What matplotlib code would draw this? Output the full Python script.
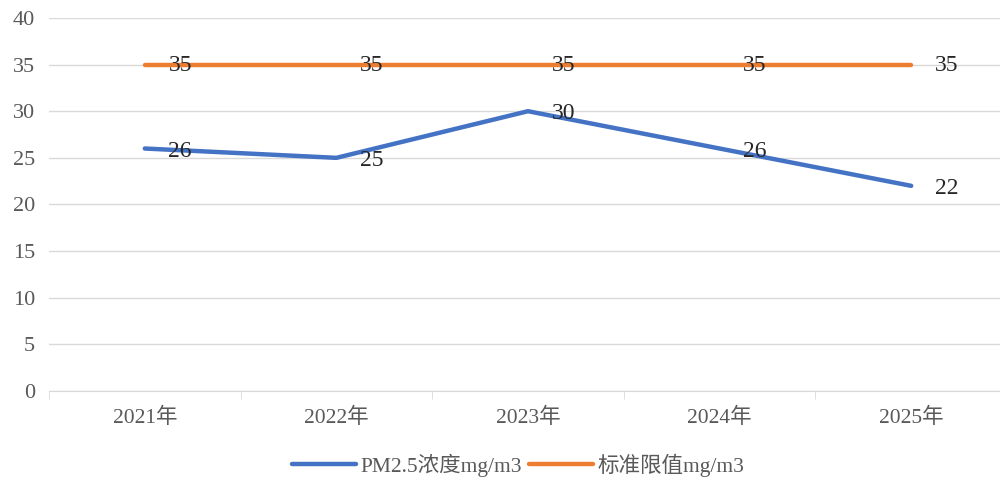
import matplotlib
matplotlib.use('Agg')
import matplotlib.pyplot as plt
import numpy as np

plt.rcParams['font.family'] = ['Liberation Serif', 'Noto Sans CJK SC']

years = ['2021年', '2022年', '2023年', '2024年', '2025年']
pm25 = [26, 25, 30, 26, 22]
limit = [35, 35, 35, 35, 35]
names = ['PM2.5浓度mg/m3', '标准限值mg/m3']

fig = plt.figure(figsize=(10, 4.84), dpi=100)
ax = fig.add_axes([0.049, 0.192, 0.958, 0.771])

x = np.arange(len(years))
ax.plot(x, pm25, color='#4472C4', lw=3.2, solid_capstyle='round', label=names[0])
ax.plot(x, limit, color='#ED7D31', lw=3.2, solid_capstyle='round', label=names[1])

# data labels to the right of each point
for xi, v in zip(x, pm25):
    ax.annotate(str(v), (xi, v), xytext=(17, -2), textcoords='offset points',
                va='center', ha='left', fontsize=17, color='#262626')
for xi, v in zip(x, limit):
    ax.annotate(str(v), (xi, v), xytext=(17, -1), textcoords='offset points',
                va='center', ha='left', fontsize=17, color='#262626')

ax.set_xlim(-0.5, len(years) - 0.5)
ax.set_ylim(0, 40)
ax.set_yticks(np.arange(0, 41, 5))
ax.grid(axis='y', color='#d9d9d9', lw=1)
ax.set_axisbelow(True)
for s in ['top', 'right', 'left']:
    ax.spines[s].set_visible(False)
ax.spines['bottom'].set_color('#d9d9d9')

ax.set_xticks(x)
ax.set_xticklabels(years)
ax.set_xticks(np.arange(-0.5, len(years), 1), minor=True)
ax.tick_params(axis='x', which='major', length=0, pad=12, labelsize=15.5, labelcolor='#595959')
ax.tick_params(axis='x', which='minor', length=6, color='#d9d9d9')
ax.tick_params(axis='y', length=0, pad=10, labelsize=16, labelcolor='#595959')

fig.legend(loc='lower center', bbox_to_anchor=(0.518, -0.025), ncol=2, frameon=False,
           fontsize=15.5, handlelength=3.0, columnspacing=0.3, handletextpad=0.2,
           labelcolor='#595959')

fig.savefig('out.png', dpi=100)
